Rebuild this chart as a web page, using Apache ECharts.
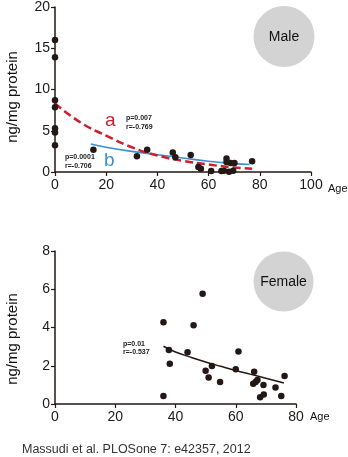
<!DOCTYPE html>
<html>
<head>
<meta charset="utf-8">
<script src="https://cdn.jsdelivr.net/npm/echarts@6/dist/echarts.min.js"></script>
<style>
html,body{margin:0;padding:0;background:#fff;}
#c{width:348px;height:457px;}
</style>
</head>
<body>
<div id="c"></div>
<script>
// ---- Data ----
// Male panel
var maleAges   = [0, 0, 0, 0, 0, 0, 0, 15, 32, 36, 46, 47, 53, 56, 57, 61, 65, 66, 67, 67, 68, 68.6, 69.6, 70.1, 77];
var maleValues = [16, 13.9, 8.7, 7.85, 5.3, 4.8, 3.25, 2.7, 1.9, 2.7, 2.35, 1.8, 2.05, 0.6, 0.38, 0.13, 0.13, 0.15, 1.65, 1.2, 0.02, 1.08, 0.15, 1.1, 1.3];
// fitted curve a (red dashed)
var fitAAges   = [0, 10, 20, 30, 40, 50, 60, 70, 77];
var fitAValues = [8.3, 6.0, 4.4, 3.0, 2.0, 1.35, 0.9, 0.55, 0.4];
// fitted curve b (blue)
var fitBAges   = [14, 20, 30, 40, 50, 60, 70, 76];
var fitBValues = [3.4, 3.0, 2.5, 2.1, 1.7, 1.3, 1.02, 0.9];
// Female panel
var femaleAges   = [49, 36, 46, 37.8, 44, 60.9, 38.1, 52.1, 50, 60, 66.1, 51, 54.8, 67.2, 65.8, 66.6, 69.2, 73.2, 76.2, 36, 68.1, 69.3, 75.1];
var femaleValues = [5.76, 4.28, 4.12, 2.83, 2.7, 2.74, 2.11, 1.99, 1.74, 1.82, 1.69, 1.38, 1.15, 1.26, 1.06, 1.15, 1.0, 0.86, 1.46, 0.42, 0.35, 0.5, 0.42];
var fitFAges   = [36, 40, 45, 50, 55, 60, 65, 70, 76];
var fitFValues = [3.02, 2.72, 2.45, 2.2, 1.97, 1.75, 1.55, 1.35, 1.1];
// Axis ticks
var maleXTicks   = [0, 100, 20];
var maleYTicks   = [0, 20, 5];
var femaleXTicks = [0, 80, 20];
var femaleYTicks = [0, 8, 2];

function pairs(xs, ys){ return xs.map(function(x,i){ return [x, ys[i]]; }); }

var FONT = '"Liberation Sans", Arial, Helvetica, sans-serif';
var INK = '#231815';
var RED = '#cf1f2e';
var BLUE = '#3a8fd2';

function xAx(gi, t){
  return {
    type:'value', gridIndex:gi, min:t[0], max:t[1], interval:t[2],
    splitLine:{show:false},
    axisLine:{show:true, onZero:false, lineStyle:{color:INK, width:1.5}},
    axisTick:{show:true, length:4, lineStyle:{color:INK, width:1.2}},
    axisLabel:{color:'#1a1a1a', fontSize:14, fontFamily:FONT, margin:6}
  };
}
function yAx(gi, t){
  return {
    type:'value', gridIndex:gi, min:t[0], max:t[1], interval:t[2],
    splitLine:{show:false},
    axisLine:{show:true, onZero:false, lineStyle:{color:INK, width:1.5}},
    axisTick:{show:true, length:4, lineStyle:{color:INK, width:1.2}},
    axisLabel:{color:'#1a1a1a', fontSize:14, fontFamily:FONT, margin:5}
  };
}

function txt(x, y, s, font, fill, align, rot){
  var o = {type:'text', x:x, y:y, z:100,
    style:{text:s, font:font, fill:fill, textAlign:align||'left', textVerticalAlign:'middle', align:align||'left', verticalAlign:'middle'}};
  if (rot) o.rotation = rot;
  return o;
}

var chart = echarts.init(document.getElementById('c'), null, {renderer:'canvas'});
chart.setOption({
  animation:false,
  backgroundColor:'#fff',
  grid:[
    {left:55, top:7, width:256, height:165, containLabel:false},
    {left:55, top:251, width:241, height:153, containLabel:false}
  ],
  xAxis:[xAx(0, maleXTicks), xAx(1, femaleXTicks)],
  yAxis:[yAx(0, maleYTicks), yAx(1, femaleYTicks)],
  series:[
    {type:'line', xAxisIndex:0, yAxisIndex:0, data:pairs(fitAAges, fitAValues), smooth:true, showSymbol:false, symbol:'none',
      lineStyle:{color:RED, width:2.5, type:[8,4]}, z:3},
    {type:'line', xAxisIndex:0, yAxisIndex:0, data:pairs(fitBAges, fitBValues), smooth:true, showSymbol:false, symbol:'none',
      lineStyle:{color:BLUE, width:1.6}, z:2},
    {type:'scatter', xAxisIndex:0, yAxisIndex:0, data:pairs(maleAges, maleValues), symbolSize:6.5, clip:false,
      itemStyle:{color:INK, opacity:1}, z:5},
    {type:'line', xAxisIndex:1, yAxisIndex:1, data:pairs(fitFAges, fitFValues), smooth:true, showSymbol:false, symbol:'none',
      lineStyle:{color:INK, width:1.5}, z:2},
    {type:'scatter', xAxisIndex:1, yAxisIndex:1, data:pairs(femaleAges, femaleValues), symbolSize:6.5, clip:false,
      itemStyle:{color:INK, opacity:1}, z:5}
  ],
  graphic:[
    {type:'circle', shape:{cx:284, cy:36.5, r:30.5}, style:{fill:'#d3d3d3'}, z:1},
    {type:'circle', shape:{cx:283.5, cy:281.5, r:30}, style:{fill:'#d3d3d3'}, z:1},
    txt(284, 37, 'Male', '14px ' + FONT, '#111', 'center'),
    txt(283.5, 282, 'Female', '14px ' + FONT, '#111', 'center'),
    txt(13, 97, 'ng/mg protein', '15px ' + FONT, '#111', 'center', Math.PI/2),
    txt(13, 339, 'ng/mg protein', '15px ' + FONT, '#111', 'center', Math.PI/2),
    txt(328, 188.5, 'Age', '11px ' + FONT, '#111', 'left'),
    txt(310, 416.5, 'Age', '11px ' + FONT, '#111', 'left'),
    txt(105, 121, 'a', '19px ' + FONT, RED, 'left'),
    txt(104, 161, 'b', '19px ' + FONT, BLUE, 'left'),
    txt(126, 118, 'p=0.007', 'bold 7px ' + FONT, '#222', 'left'),
    txt(126, 127, 'r=-0.769', 'bold 7px ' + FONT, '#222', 'left'),
    txt(65, 157.5, 'p=0.0001', 'bold 7px ' + FONT, '#222', 'left'),
    txt(65, 166, 'r=-0.706', 'bold 7px ' + FONT, '#222', 'left'),
    txt(123, 344, 'p=0.01', 'bold 7px ' + FONT, '#222', 'left'),
    txt(123, 352.5, 'r=-0.537', 'bold 7px ' + FONT, '#222', 'left'),
    txt(22, 450, 'Massudi et al. PLOSone 7: e42357, 2012', '12.5px ' + FONT, '#333', 'left')
  ]
});
</script>
</body>
</html>
